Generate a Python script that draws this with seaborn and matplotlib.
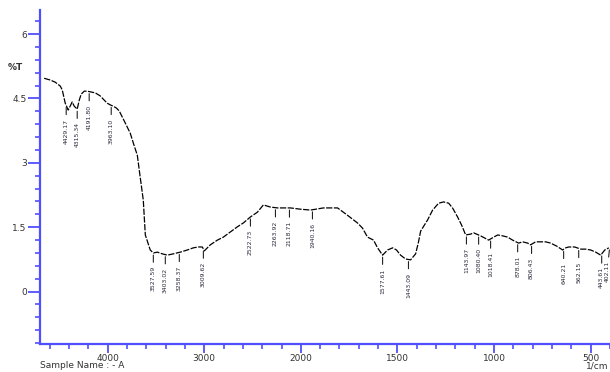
import numpy as np
import pandas as pd
import seaborn as sns
import matplotlib.pyplot as plt
from matplotlib.ticker import FixedLocator, FixedFormatter

# spectrum trace (wavenumber in 1/cm, %T)
wavenumber = [4657, 4595, 4543, 4491, 4470, 4439, 4408, 4388, 4367, 4346,
              4315, 4294, 4274, 4242, 4211, 4170, 4128, 4077, 4035, 4004,
              3973, 3942, 3911, 3880, 3818, 3766, 3724, 3693, 3662, 3631,
              3610, 3559, 3527, 3486, 3434, 3382, 3320, 3248, 3175, 3113,
              3061, 3020, 2999, 2968, 2937, 2864, 2802, 2730, 2657, 2595,
              2522, 2450, 2388, 2315, 2243, 2108, 2004, 1950, 1883, 1847,
              1810, 1759, 1707, 1681, 1655, 1624, 1603, 1577, 1551, 1525,
              1505, 1484, 1458, 1432, 1406, 1391, 1380, 1344, 1318, 1287,
              1261, 1235, 1215, 1189, 1168, 1147, 1121, 1106, 1070, 1028,
              1002, 981, 956, 930, 904, 873, 852, 826, 811, 785,
              759, 733, 707, 676, 645, 629, 614, 583, 551, 526,
              500, 474, 448, 427, 406]
transmittance = [4.97, 4.93, 4.88, 4.79, 4.70, 4.39, 4.23, 4.32, 4.42, 4.32,
                 4.25, 4.46, 4.60, 4.67, 4.67, 4.65, 4.63, 4.56, 4.46, 4.39,
                 4.35, 4.32, 4.28, 4.21, 3.93, 3.69, 3.39, 3.18, 2.65, 2.13,
                 1.32, 0.97, 0.90, 0.92, 0.88, 0.85, 0.88, 0.92, 0.97, 1.02,
                 1.04, 1.04, 0.95, 1.02, 1.09, 1.20, 1.27, 1.39, 1.51, 1.60,
                 1.74, 1.85, 2.02, 1.97, 1.95, 1.95, 1.92, 1.90, 1.95, 1.95,
                 1.95, 1.78, 1.60, 1.48, 1.27, 1.20, 1.02, 0.85, 0.97, 1.02,
                 0.97, 0.85, 0.76, 0.74, 0.88, 1.16, 1.41, 1.67, 1.90, 2.06,
                 2.09, 2.06, 1.95, 1.74, 1.55, 1.32, 1.34, 1.37, 1.30, 1.20,
                 1.27, 1.32, 1.30, 1.27, 1.20, 1.13, 1.16, 1.13, 1.09, 1.16,
                 1.16, 1.16, 1.13, 1.06, 0.97, 1.02, 1.04, 1.04, 0.99, 0.99,
                 0.97, 0.92, 0.85, 0.97, 1.02]

# peak pick labels
peak_pos = [4429, 4315, 4191, 3963, 3527, 3403, 3258, 3009, 2522, 2263,
            2118, 1940, 1577, 1443, 1143, 1080, 1018, 878, 806, 640,
            562, 443, 402]
peak_text = ["4429.17", "4315.34", "4191.80", "3963.10", "3527.59", "3403.02",
             "3258.37", "3009.62", "2522.73", "2263.92", "2118.71", "1940.16",
             "1577.61", "1443.09", "1143.97", "1080.40", "1018.41", "878.01",
             "806.43", "640.21", "562.15", "443.61", "402.11"]

x_major = [4000, 3000, 2000, 1500, 1000, 500]
x_major_labels = ["4000", "3000", "2000", "1500", "1000", "500"]
y_major = [0, 1.5, 3, 4.5, 6]
y_major_labels = ["0", "1.5", "3", "4.5", "6"]

df = pd.DataFrame({"wn": wavenumber, "T": transmittance})

sns.set_style("white")
plt.rcParams["font.family"] = ["DejaVu Sans"]

AXIS = "#4f4fff"

fig = plt.figure(figsize=(6.1, 3.72), dpi=100)
ax = fig.add_axes([0.0656, 0.0753, 0.9344, 0.8977])


# Shimadzu style axis: 1000/cm per division above 2000, 500/cm below
def fwd(w):
    w = np.asarray(w, dtype=float)
    return np.where(w > 2000, 2000 + (w - 2000) / 2, w)


def inv(f):
    f = np.asarray(f, dtype=float)
    return np.where(f > 2000, 2000 + 2 * (f - 2000), f)


ax.set_xscale("function", functions=(fwd, inv))

sns.lineplot(data=df, x="wn", y="T", sort=False, estimator=None, ax=ax,
             color="black", lw=0.9, linestyle=(0, (5, 1.2)))

ax.set_xlim(4700, 400)
ax.set_ylim(-1.22, 6.56)

# peak labels hanging under the curve
wn_inc = np.array(wavenumber[::-1], dtype=float)
t_inc = np.array(transmittance[::-1], dtype=float)
for w, txt in zip(peak_pos, peak_text):
    tc = np.interp(w, wn_inc, t_inc)
    # the last label sits on the right border; keep it inside the figure
    ha = "right" if w < 420 else "center"
    ax.annotate(txt, xy=(w, tc), xytext=(0, -9.5), textcoords="offset points",
                rotation=90, ha=ha, va="top", fontsize=4.4,
                color="#2a2a3a",
                arrowprops=dict(arrowstyle="-", color="#222222", lw=0.8,
                                shrinkA=0.5, shrinkB=1.5))

# ticks
x_minor = [4600, 4400, 4200, 3800, 3600, 3400, 3200, 2800, 2600, 2400, 2200,
           1900, 1800, 1700, 1600, 1400, 1300, 1200, 1100,
           900, 800, 700, 600, 400]
y_minor = [v for v in np.round(np.arange(-1.2, 6.4, 0.3), 2)
           if not np.isclose(v % 1.5, 0) and not np.isclose(v % 1.5, 1.5)]
ax.xaxis.set_major_locator(FixedLocator(x_major))
ax.xaxis.set_major_formatter(FixedFormatter(x_major_labels))
ax.xaxis.set_minor_locator(FixedLocator(x_minor))
ax.yaxis.set_major_locator(FixedLocator(y_major))
ax.yaxis.set_major_formatter(FixedFormatter(y_major_labels))
ax.yaxis.set_minor_locator(FixedLocator(y_minor))

ax.tick_params(axis="x", which="major", length=6.5, width=1.3, color=AXIS,
               labelsize=6.5, labelcolor="#333333", pad=0.5, direction="out")
ax.tick_params(axis="x", which="minor", length=3.5, width=1.2, color=AXIS,
               direction="out")
ax.tick_params(axis="y", which="major", length=8.5, width=1.3, color=AXIS,
               labelsize=6.5, labelcolor="#333333", pad=1, direction="out")
ax.tick_params(axis="y", which="minor", length=3.5, width=1.2, color=AXIS,
               direction="out")
ax.tick_params(bottom=True, left=True, which="both")

for s in ["top", "right"]:
    ax.spines[s].set_visible(False)
for s in ["left", "bottom"]:
    ax.spines[s].set_color(AXIS)
    ax.spines[s].set_linewidth(1.6)

ax.set_xlabel("")
ax.set_ylabel("")

fig.text(15 / 610, 1 - 67 / 372, "%T", fontsize=6.5, color="#333333",
         ha="center", va="center", fontweight="bold")
fig.text(40 / 610, 1 - 366 / 372, "Sample Name : - A", fontsize=6.5,
         color="#333333", ha="left", va="center")
fig.text(608 / 610, 1 - 366 / 372, "1/cm", fontsize=6.5, color="#333333",
         ha="right", va="center")

fig.savefig("out.png", dpi=100)
plt.close(fig)
